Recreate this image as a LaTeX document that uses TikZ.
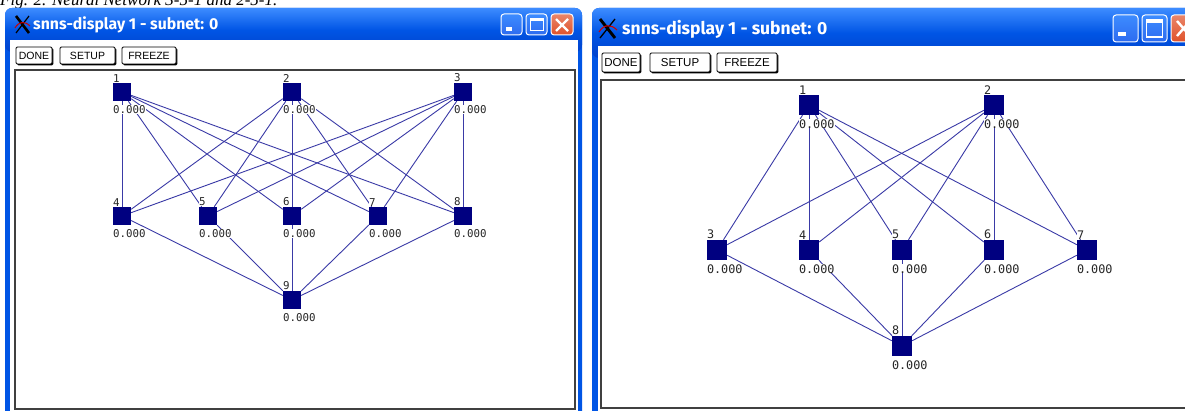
\documentclass[tikz,border=0pt]{standalone}
\usepackage{fontspec}
\setmainfont{Liberation Serif}
\newfontfamily\unitfont{DejaVu Sans Mono}
\newfontfamily\barfont{Fira Sans}
\newfontfamily\btnfont{Liberation Sans}
\usetikzlibrary{shadows}
\definecolor{xpblue}{HTML}{0055E5}
\definecolor{xplight}{HTML}{3D8CFF}
\definecolor{xpdark}{HTML}{0042CC}
\definecolor{xpbtn}{HTML}{2D6BF0}
\definecolor{xpred}{HTML}{E0522A}
\definecolor{unitcol}{HTML}{000080}
\definecolor{linkcol}{HTML}{3A3AA6}
\pgfdeclarelayer{back}
\pgfdeclarelayer{edges}
\pgfsetlayers{back,edges,main}
\tikzset{
  unitL/.style={rectangle, fill=unitcol, minimum size=18pt, inner sep=0},
  unitR/.style={rectangle, fill=unitcol, minimum size=20pt, inner sep=0},
  tag/.style={inner sep=0, fill=white, text=black!85},
  link/.style={draw=linkcol, line width=0.9pt},
  btn/.style={draw=black, line width=0.9pt, fill=white, rounded corners=1.2pt,
    inner sep=0, general shadow={shadow xshift=1.3pt, shadow yshift=-1.3pt, fill=black}},
  winbtn/.style={draw=white, line width=1pt, rounded corners=3pt,
    top color=xplight, bottom color=xpbtn},
  closebtn/.style={draw=white, line width=1pt, rounded corners=3pt,
    top color=xpred!70!white, bottom color=xpred},
}
\begin{document}
\begin{tikzpicture}[x=1pt, y=-1pt]
\useasboundingbox (0,0) rectangle (1185,411);
\begin{pgfonlayer}{back}
  \fill[white] (0,0) rectangle (1185,411);
  % caption above the two windows
  \node[anchor=base west, inner sep=0, font=\itshape\fontsize{17}{17}\selectfont] (cap) at (0,5.5)
    {Fig. 2. Neural Network 3-5-1 and 2-5-1.};

  % ---------- left window ----------
  \fill[xpblue, rounded corners=7pt] (5,8) rectangle (582,440);
  \shade[top color=xplight, bottom color=xpdark, middle color=xpblue, rounded corners=7pt] (5,8) rectangle (582,52);
  \fill[white] (10,40) rectangle (578,440);
  \draw[black!75, line width=1.3pt] (15,70) rectangle (575,409);
  % title icon
  \draw[black, line width=2.6pt] (16,16) -- (29,33);
  \draw[black, line width=1.2pt] (29,16) -- (16,33);
  \draw[red!80!black, line width=1pt] (15,28) .. controls (19,21) and (25,21) .. (30,26);
  \node[anchor=west, inner sep=0, text=white, font=\barfont\bfseries\fontsize{15.8}{16}\selectfont] (titleL) at (33,24.5)
    {snns-display 1 - subnet: 0};
  \draw[winbtn] (501,14) rectangle (522,35);
  \fill[white] (505.5,27.5) rectangle (512,31);
  \draw[winbtn] (526,14) rectangle (547,35);
  \draw[white, line width=1pt] (530,18.5) rectangle (543,31);
  \fill[white] (530,18) rectangle (543,21);
  \draw[closebtn] (551,14) rectangle (573,35);
  \draw[white, line width=2.2pt] (556,19) -- (568,31) (568,19) -- (556,31);
  \node[btn, minimum width=36pt, minimum height=17pt, font=\btnfont\fontsize{10.5}{10.5}\selectfont] (doneL) at (34,55.5) {DONE};
  \node[btn, minimum width=55pt, minimum height=17pt, font=\btnfont\fontsize{10.5}{10.5}\selectfont] (setupL) at (87.5,55.5) {SETUP};
  \node[btn, minimum width=54pt, minimum height=17pt, font=\btnfont\fontsize{10.5}{10.5}\selectfont] (freezeL) at (149,55.5) {FREEZE};

  % ---------- right window ----------
  \fill[xpblue, rounded corners=7pt] (592,8) rectangle (1210,440);
  \shade[top color=xplight, bottom color=xpdark, middle color=xpblue, rounded corners=7pt] (592,8) rectangle (1210,58);
  \fill[white] (598,46) rectangle (1210,440);
  \draw[black!75, line width=1.3pt] (601,80) rectangle (1195,408);
  \draw[black, line width=2.9pt] (600,19) -- (615,38);
  \draw[black, line width=1.3pt] (615,19) -- (600,38);
  \draw[red!80!black, line width=1.1pt] (599,32) .. controls (604,24) and (611,24) .. (617,30);
  \node[anchor=west, inner sep=0, text=white, font=\barfont\bfseries\fontsize{17.5}{18}\selectfont] (titleR) at (622,29.5)
    {snns-display 1 - subnet: 0};
  \draw[winbtn] (1113,15) rectangle (1138,42);
  \fill[white] (1118,32) rectangle (1126,36);
  \draw[winbtn] (1142,15) rectangle (1167,42);
  \draw[white, line width=1.1pt] (1146.5,20) rectangle (1162.5,37);
  \fill[white] (1146.5,19.5) rectangle (1162.5,23);
  \draw[closebtn] (1171,15) rectangle (1196,42);
  \draw[white, line width=2.4pt] (1177,21) -- (1190,36) (1190,21) -- (1177,36);
  \node[btn, minimum width=38pt, minimum height=19pt, font=\btnfont\fontsize{11.5}{11.5}\selectfont] (doneR) at (621,62.5) {DONE};
  \node[btn, minimum width=60pt, minimum height=19pt, font=\btnfont\fontsize{11.5}{11.5}\selectfont] (setupR) at (680,62.5) {SETUP};
  \node[btn, minimum width=60pt, minimum height=19pt, font=\btnfont\fontsize{11.5}{11.5}\selectfont] (freezeR) at (747,62.5) {FREEZE};
\end{pgfonlayer}

% ---------- left network: 3 inputs, 5 hidden, 1 output ----------
\foreach \n/\x/\y in {1/122/92, 2/292/92, 3/463/92, 4/122/216, 5/208/216,
                      6/292/216, 7/378/216, 8/463/216, 9/292/300} {
  \node[unitL] (L\n) at (\x,\y) {};
  \node[tag, anchor=south west, font=\unitfont\fontsize{10.8}{11}\selectfont] (L\n num) at ([yshift=0.5pt]L\n.north west) {\n};
  \node[tag, anchor=north west, font=\unitfont\fontsize{10.8}{11}\selectfont] (L\n val) at ([yshift=-4pt]L\n.south west) {0.000};
}
\begin{pgfonlayer}{edges}
  \foreach \i in {1,2,3} \foreach \j in {4,...,8} \draw[link] (L\i) -- (L\j);
  \foreach \j in {4,...,8} \draw[link] (L\j) -- (L9);
\end{pgfonlayer}

% ---------- right network: 2 inputs, 5 hidden, 1 output ----------
\foreach \n/\x/\y in {1/809/105, 2/994/105, 3/717/250, 4/809/250, 5/902/250,
                      6/994/250, 7/1087/250, 8/902/346} {
  \node[unitR] (R\n) at (\x,\y) {};
  \node[tag, anchor=south west, font=\unitfont\fontsize{11.8}{12}\selectfont] (R\n num) at ([yshift=0.5pt]R\n.north west) {\n};
  \node[tag, anchor=north west, font=\unitfont\fontsize{11.8}{12}\selectfont] (R\n val) at ([yshift=-4pt]R\n.south west) {0.000};
}
\begin{pgfonlayer}{edges}
  \foreach \i in {1,2} \foreach \j in {3,...,7} \draw[link] (R\i) -- (R\j);
  \foreach \j in {3,...,7} \draw[link] (R\j) -- (R8);
\end{pgfonlayer}
\end{tikzpicture}
\end{document}
